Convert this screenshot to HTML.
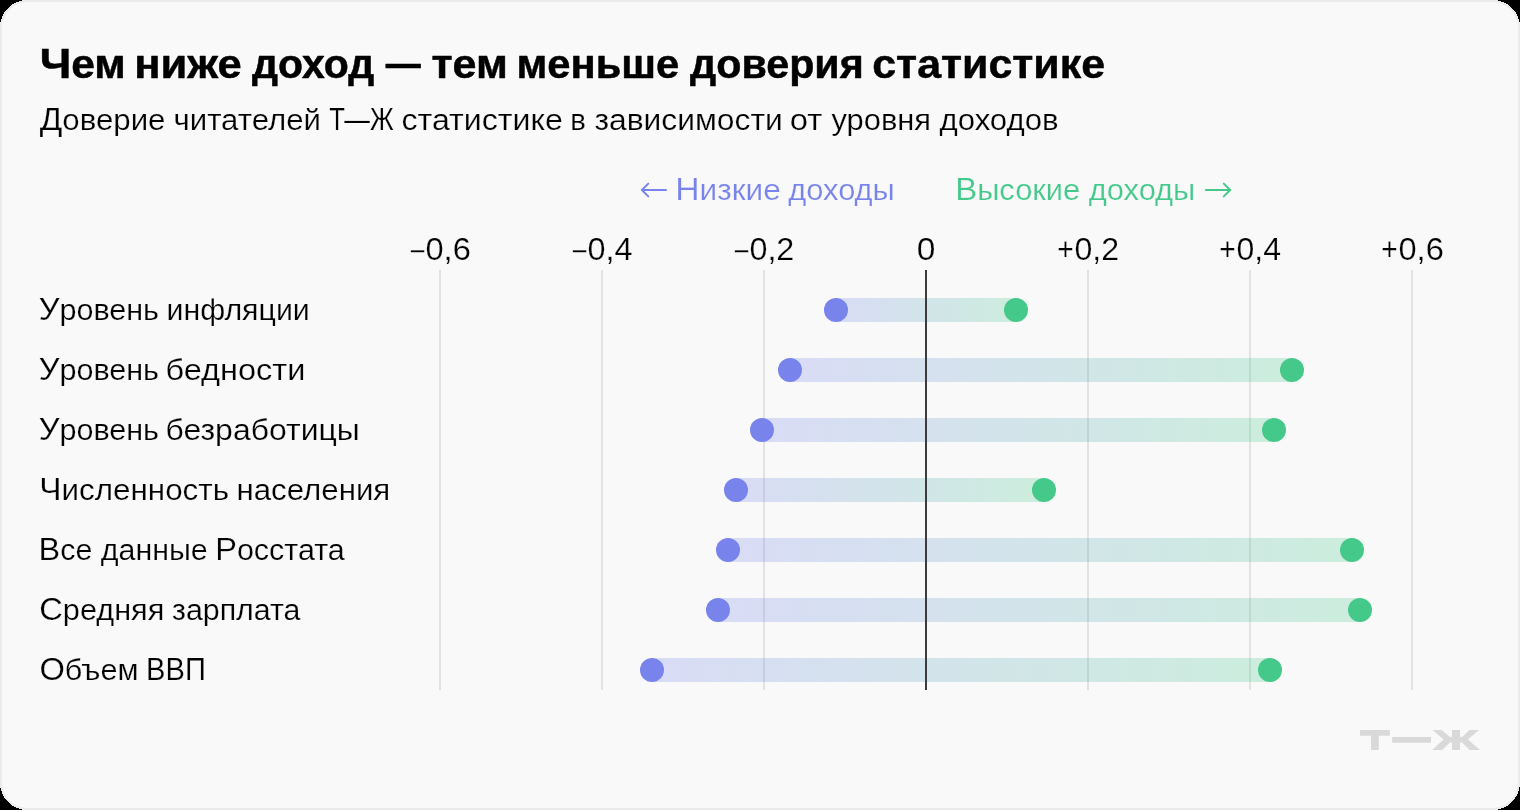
<!DOCTYPE html>
<html lang="ru"><head><meta charset="utf-8"><title>Чем ниже доход — тем меньше доверия статистике</title>
<style>html,body{margin:0;padding:0;background:#000;}body{width:1520px;height:810px;overflow:hidden;}svg{display:block;will-change:transform;}text{font-family:"Liberation Sans",sans-serif;}</style>
</head><body>
<svg width="1520" height="810" viewBox="0 0 1520 810">
<defs>
<linearGradient id="g0" gradientUnits="userSpaceOnUse" x1="836" y1="0" x2="1016" y2="0"><stop offset="0" stop-color="#7884eb"/><stop offset="1" stop-color="#45c98b"/></linearGradient>
<linearGradient id="g1" gradientUnits="userSpaceOnUse" x1="790" y1="0" x2="1292" y2="0"><stop offset="0" stop-color="#7884eb"/><stop offset="1" stop-color="#45c98b"/></linearGradient>
<linearGradient id="g2" gradientUnits="userSpaceOnUse" x1="762" y1="0" x2="1274" y2="0"><stop offset="0" stop-color="#7884eb"/><stop offset="1" stop-color="#45c98b"/></linearGradient>
<linearGradient id="g3" gradientUnits="userSpaceOnUse" x1="736" y1="0" x2="1044" y2="0"><stop offset="0" stop-color="#7884eb"/><stop offset="1" stop-color="#45c98b"/></linearGradient>
<linearGradient id="g4" gradientUnits="userSpaceOnUse" x1="728" y1="0" x2="1352" y2="0"><stop offset="0" stop-color="#7884eb"/><stop offset="1" stop-color="#45c98b"/></linearGradient>
<linearGradient id="g5" gradientUnits="userSpaceOnUse" x1="718" y1="0" x2="1360" y2="0"><stop offset="0" stop-color="#7884eb"/><stop offset="1" stop-color="#45c98b"/></linearGradient>
<linearGradient id="g6" gradientUnits="userSpaceOnUse" x1="652" y1="0" x2="1270" y2="0"><stop offset="0" stop-color="#7884eb"/><stop offset="1" stop-color="#45c98b"/></linearGradient>
</defs>
<rect x="0" y="0" width="1520" height="810" rx="27.5" ry="27.5" fill="#ebebeb" shape-rendering="crispEdges"/>
<rect x="2" y="2" width="1516" height="806" rx="25.5" ry="25.5" fill="#f9f9f9"/>
<g stroke="#7884eb" stroke-width="2" fill="none" stroke-linecap="round" stroke-linejoin="round"><path d="M666 190H641.9"/><path d="M648.3 183.6L641.9 190L648.3 196.4"/></g>
<g stroke="#45c98b" stroke-width="2" fill="none" stroke-linecap="round" stroke-linejoin="round"><path d="M1205.9 190H1230.2"/><path d="M1223.8 183.6L1230.2 190L1223.8 196.4"/></g>
<rect x="439" y="270" width="2" height="420" fill="#e2e2e2"/>
<rect x="601" y="270" width="2" height="420" fill="#e2e2e2"/>
<rect x="763" y="270" width="2" height="420" fill="#e2e2e2"/>
<rect x="1087" y="270" width="2" height="420" fill="#e2e2e2"/>
<rect x="1249" y="270" width="2" height="420" fill="#e2e2e2"/>
<rect x="1411" y="270" width="2" height="420" fill="#e2e2e2"/>
<rect x="836" y="298" width="180" height="24" fill="url(#g0)" fill-opacity="0.25"/>
<rect x="790" y="358" width="502" height="24" fill="url(#g1)" fill-opacity="0.25"/>
<rect x="762" y="418" width="512" height="24" fill="url(#g2)" fill-opacity="0.25"/>
<rect x="736" y="478" width="308" height="24" fill="url(#g3)" fill-opacity="0.25"/>
<rect x="728" y="538" width="624" height="24" fill="url(#g4)" fill-opacity="0.25"/>
<rect x="718" y="598" width="642" height="24" fill="url(#g5)" fill-opacity="0.25"/>
<rect x="652" y="658" width="618" height="24" fill="url(#g6)" fill-opacity="0.25"/>
<rect x="925" y="270" width="2" height="420" fill="#3c3c3c"/>
<circle cx="836" cy="310" r="12" fill="#7884eb"/><circle cx="1016" cy="310" r="12" fill="#45c98b"/>
<circle cx="790" cy="370" r="12" fill="#7884eb"/><circle cx="1292" cy="370" r="12" fill="#45c98b"/>
<circle cx="762" cy="430" r="12" fill="#7884eb"/><circle cx="1274" cy="430" r="12" fill="#45c98b"/>
<circle cx="736" cy="490" r="12" fill="#7884eb"/><circle cx="1044" cy="490" r="12" fill="#45c98b"/>
<circle cx="728" cy="550" r="12" fill="#7884eb"/><circle cx="1352" cy="550" r="12" fill="#45c98b"/>
<circle cx="718" cy="610" r="12" fill="#7884eb"/><circle cx="1360" cy="610" r="12" fill="#45c98b"/>
<circle cx="652" cy="670" r="12" fill="#7884eb"/><circle cx="1270" cy="670" r="12" fill="#45c98b"/>
<text x="39.67" y="78.0" font-size="41.0" font-weight="700" fill="#000000" stroke="#000000" stroke-width="0.5" stroke-linejoin="round" textLength="86.18" lengthAdjust="spacingAndGlyphs"><tspan font-size="43.3">Ч</tspan>ем</text>
<text x="134.20" y="78.0" font-size="41.0" font-weight="700" fill="#000000" stroke="#000000" stroke-width="0.5" stroke-linejoin="round" textLength="107.58" lengthAdjust="spacingAndGlyphs">ниже</text>
<text x="252.00" y="78.0" font-size="41.0" font-weight="700" fill="#000000" stroke="#000000" stroke-width="0.5" stroke-linejoin="round" textLength="122.24" lengthAdjust="spacingAndGlyphs">доход</text>
<text x="385.73" y="77.1" font-size="41.0" font-weight="700" fill="#000000" stroke="#000000" stroke-width="0.5" stroke-linejoin="round" textLength="35.03" lengthAdjust="spacingAndGlyphs">—</text>
<text x="431.48" y="78.0" font-size="41.0" font-weight="700" fill="#000000" stroke="#000000" stroke-width="0.5" stroke-linejoin="round" textLength="76.34" lengthAdjust="spacingAndGlyphs">тем</text>
<text x="516.47" y="78.0" font-size="41.0" font-weight="700" fill="#000000" stroke="#000000" stroke-width="0.5" stroke-linejoin="round" textLength="162.79" lengthAdjust="spacingAndGlyphs">меньше</text>
<text x="690.00" y="78.0" font-size="41.0" font-weight="700" fill="#000000" stroke="#000000" stroke-width="0.5" stroke-linejoin="round" textLength="173.76" lengthAdjust="spacingAndGlyphs">доверия</text>
<text x="872.25" y="78.0" font-size="41.0" font-weight="700" fill="#000000" stroke="#000000" stroke-width="0.5" stroke-linejoin="round" textLength="232.76" lengthAdjust="spacingAndGlyphs">статистике</text>
<text x="39.75" y="129.75" font-size="30" fill="#000000" stroke="#f9f9f9" stroke-width="0.2" stroke-linejoin="round" textLength="125.75" lengthAdjust="spacingAndGlyphs"><tspan font-size="32">Д</tspan>оверие</text>
<text x="173.47" y="129.75" font-size="30" fill="#000000" stroke="#f9f9f9" stroke-width="0.2" stroke-linejoin="round" textLength="147.57" lengthAdjust="spacingAndGlyphs">читателей</text>
<text x="329.26" y="129.75" font-size="32" fill="#000000" stroke="#f9f9f9" stroke-width="0.2" stroke-linejoin="round" textLength="64.49" lengthAdjust="spacingAndGlyphs">Т—Ж</text>
<text x="401.49" y="129.75" font-size="30" fill="#000000" stroke="#f9f9f9" stroke-width="0.2" stroke-linejoin="round" textLength="161.27" lengthAdjust="spacingAndGlyphs">статистике</text>
<text x="570.27" y="129.75" font-size="30" fill="#000000" stroke="#f9f9f9" stroke-width="0.2" stroke-linejoin="round" textLength="15.63" lengthAdjust="spacingAndGlyphs">в</text>
<text x="594.49" y="129.75" font-size="30" fill="#000000" stroke="#f9f9f9" stroke-width="0.2" stroke-linejoin="round" textLength="188.27" lengthAdjust="spacingAndGlyphs">зависимости</text>
<text x="789.74" y="129.75" font-size="30" fill="#000000" stroke="#f9f9f9" stroke-width="0.2" stroke-linejoin="round" textLength="32.52" lengthAdjust="spacingAndGlyphs">от</text>
<text x="831.50" y="129.75" font-size="30" fill="#000000" stroke="#f9f9f9" stroke-width="0.2" stroke-linejoin="round" textLength="99.51" lengthAdjust="spacingAndGlyphs">уровня</text>
<text x="939.50" y="129.75" font-size="30" fill="#000000" stroke="#f9f9f9" stroke-width="0.2" stroke-linejoin="round" textLength="119.00" lengthAdjust="spacingAndGlyphs">доходов</text>
<text x="675.19" y="200.0" font-size="30" fill="#7884eb" stroke="#f9f9f9" stroke-width="0.2" stroke-linejoin="round" textLength="105.60" lengthAdjust="spacingAndGlyphs"><tspan font-size="32">Н</tspan>изкие</text>
<text x="788.25" y="200.0" font-size="30" fill="#7884eb" stroke="#f9f9f9" stroke-width="0.2" stroke-linejoin="round" textLength="106.52" lengthAdjust="spacingAndGlyphs">доходы</text>
<text x="955.20" y="200.0" font-size="30" fill="#45c98b" stroke="#f9f9f9" stroke-width="0.2" stroke-linejoin="round" textLength="125.08" lengthAdjust="spacingAndGlyphs"><tspan font-size="32">В</tspan>ысокие</text>
<text x="1088.75" y="200.0" font-size="30" fill="#45c98b" stroke="#f9f9f9" stroke-width="0.2" stroke-linejoin="round" textLength="106.52" lengthAdjust="spacingAndGlyphs">доходы</text>
<text x="409.41" y="262.35" font-size="32" fill="#000000" stroke="#f9f9f9" stroke-width="0.2" stroke-linejoin="round" textLength="16.18" lengthAdjust="spacingAndGlyphs">−</text>
<text x="425.47" y="260.25" font-size="32" fill="#000000" stroke="#f9f9f9" stroke-width="0.2" stroke-linejoin="round" textLength="45.31" lengthAdjust="spacingAndGlyphs">0,6</text>
<text x="571.41" y="262.35" font-size="32" fill="#000000" stroke="#f9f9f9" stroke-width="0.2" stroke-linejoin="round" textLength="16.18" lengthAdjust="spacingAndGlyphs">−</text>
<text x="587.49" y="260.25" font-size="32" fill="#000000" stroke="#f9f9f9" stroke-width="0.2" stroke-linejoin="round" textLength="45.02" lengthAdjust="spacingAndGlyphs">0,4</text>
<text x="733.41" y="262.35" font-size="32" fill="#000000" stroke="#f9f9f9" stroke-width="0.2" stroke-linejoin="round" textLength="16.18" lengthAdjust="spacingAndGlyphs">−</text>
<text x="749.46" y="260.25" font-size="32" fill="#000000" stroke="#f9f9f9" stroke-width="0.2" stroke-linejoin="round" textLength="44.84" lengthAdjust="spacingAndGlyphs">0,2</text>
<text x="916.69" y="260.25" font-size="32" fill="#000000" stroke="#f9f9f9" stroke-width="0.2" stroke-linejoin="round" textLength="18.63" lengthAdjust="spacingAndGlyphs">0</text>
<text x="1057.15" y="260.25" font-size="32" fill="#000000" stroke="#f9f9f9" stroke-width="0.2" stroke-linejoin="round" textLength="16.45" lengthAdjust="spacingAndGlyphs">+</text>
<text x="1074.46" y="260.25" font-size="32" fill="#000000" stroke="#f9f9f9" stroke-width="0.2" stroke-linejoin="round" textLength="44.59" lengthAdjust="spacingAndGlyphs">0,2</text>
<text x="1219.15" y="260.25" font-size="32" fill="#000000" stroke="#f9f9f9" stroke-width="0.2" stroke-linejoin="round" textLength="16.45" lengthAdjust="spacingAndGlyphs">+</text>
<text x="1236.49" y="260.25" font-size="32" fill="#000000" stroke="#f9f9f9" stroke-width="0.2" stroke-linejoin="round" textLength="44.52" lengthAdjust="spacingAndGlyphs">0,4</text>
<text x="1381.15" y="260.25" font-size="32" fill="#000000" stroke="#f9f9f9" stroke-width="0.2" stroke-linejoin="round" textLength="16.45" lengthAdjust="spacingAndGlyphs">+</text>
<text x="1398.47" y="260.25" font-size="32" fill="#000000" stroke="#f9f9f9" stroke-width="0.2" stroke-linejoin="round" textLength="45.31" lengthAdjust="spacingAndGlyphs">0,6</text>
<text x="38.74" y="320.25" font-size="30" fill="#000000" stroke="#f9f9f9" stroke-width="0.2" stroke-linejoin="round" textLength="120.27" lengthAdjust="spacingAndGlyphs"><tspan font-size="32">У</tspan>ровень</text>
<text x="166.46" y="320.25" font-size="30" fill="#000000" stroke="#f9f9f9" stroke-width="0.2" stroke-linejoin="round" textLength="143.33" lengthAdjust="spacingAndGlyphs">инфляции</text>
<text x="38.74" y="380.25" font-size="30" fill="#000000" stroke="#f9f9f9" stroke-width="0.2" stroke-linejoin="round" textLength="120.27" lengthAdjust="spacingAndGlyphs"><tspan font-size="32">У</tspan>ровень</text>
<text x="165.47" y="380.25" font-size="30" fill="#000000" stroke="#f9f9f9" stroke-width="0.2" stroke-linejoin="round" textLength="139.82" lengthAdjust="spacingAndGlyphs">бедности</text>
<text x="38.74" y="440.25" font-size="30" fill="#000000" stroke="#f9f9f9" stroke-width="0.2" stroke-linejoin="round" textLength="120.27" lengthAdjust="spacingAndGlyphs"><tspan font-size="32">У</tspan>ровень</text>
<text x="165.48" y="440.25" font-size="30" fill="#000000" stroke="#f9f9f9" stroke-width="0.2" stroke-linejoin="round" textLength="194.30" lengthAdjust="spacingAndGlyphs">безработицы</text>
<text x="39.22" y="500.25" font-size="30" fill="#000000" stroke="#f9f9f9" stroke-width="0.2" stroke-linejoin="round" textLength="189.80" lengthAdjust="spacingAndGlyphs"><tspan font-size="32">Ч</tspan>исленность</text>
<text x="236.46" y="500.25" font-size="30" fill="#000000" stroke="#f9f9f9" stroke-width="0.2" stroke-linejoin="round" textLength="153.83" lengthAdjust="spacingAndGlyphs">населения</text>
<text x="38.62" y="560.25" font-size="30" fill="#000000" stroke="#f9f9f9" stroke-width="0.2" stroke-linejoin="round" textLength="53.70" lengthAdjust="spacingAndGlyphs"><tspan font-size="32">В</tspan>се</text>
<text x="100.75" y="560.25" font-size="30" fill="#000000" stroke="#f9f9f9" stroke-width="0.2" stroke-linejoin="round" textLength="107.00" lengthAdjust="spacingAndGlyphs">данные</text>
<text x="215.23" y="560.25" font-size="30" fill="#000000" stroke="#f9f9f9" stroke-width="0.2" stroke-linejoin="round" textLength="129.52" lengthAdjust="spacingAndGlyphs"><tspan font-size="32">Р</tspan>осстата</text>
<text x="39.22" y="620.25" font-size="30" fill="#000000" stroke="#f9f9f9" stroke-width="0.2" stroke-linejoin="round" textLength="125.07" lengthAdjust="spacingAndGlyphs"><tspan font-size="32">С</tspan>редняя</text>
<text x="172.01" y="620.25" font-size="30" fill="#000000" stroke="#f9f9f9" stroke-width="0.2" stroke-linejoin="round" textLength="128.49" lengthAdjust="spacingAndGlyphs">зарплата</text>
<text x="39.47" y="680.25" font-size="30" fill="#000000" stroke="#f9f9f9" stroke-width="0.2" stroke-linejoin="round" textLength="99.08" lengthAdjust="spacingAndGlyphs"><tspan font-size="32">О</tspan>бъем</text>
<text x="146.12" y="680.25" font-size="32" fill="#000000" stroke="#f9f9f9" stroke-width="0.2" stroke-linejoin="round" textLength="59.75" lengthAdjust="spacingAndGlyphs">ВВП</text>
<g fill="#d9d9d9">
<path d="M1360 730H1389.8V735.8H1378.8V750H1371V735.8H1360Z"/>
<rect x="1392.2" y="737" width="38.8" height="5.7"/>
<path d="M1452 730H1460V737H1462L1469.7 730H1479L1467.9 739.6L1480 750H1469.7L1462 742.6H1460V750H1452V742.6H1450L1442.1 750H1432.2L1443.6 739.6L1432.6 730H1441.6L1450 737H1452Z"/>
</g>
</svg></body></html>
